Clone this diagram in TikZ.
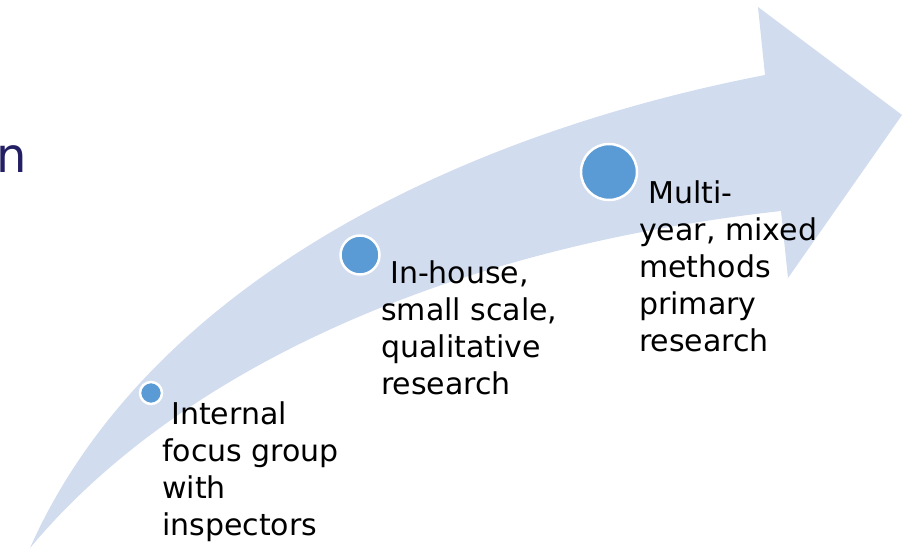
\documentclass[tikz,border=0pt]{standalone}
\usepackage{fontspec}
\setmainfont{DejaVu Sans}
\definecolor{bandblue}{RGB}{209,220,239}
\definecolor{dotblue}{RGB}{91,155,213}
\definecolor{navy}{RGB}{35,31,100}
\begin{document}
\begin{tikzpicture}[x=1pt,y=-1pt,
  dot/.style={circle,fill=dotblue,draw=white,line width=2.5pt,inner sep=0pt},
  label/.style={anchor=base west,inner sep=0pt,font=\fontsize{30}{37}\selectfont}]
\useasboundingbox (0,0) rectangle (907,549);
% curved arrow
\fill[bandblue] (30,548) .. controls (140,300) and (430,140) .. (765,75)
  -- (758,7) -- (902,115) -- (788,278) -- (781,211)
  .. controls (430,250) and (170,380) .. (30,548) -- cycle;
% partial title letter
\node[anchor=base east,inner sep=0pt,text=navy,font=\fontsize{48}{56}\selectfont] (title) at (27,172) {n};
% milestones
\node[dot,minimum size=22pt] (d1) at (151,393) {};
\node[dot,minimum size=39pt] (d2) at (360,255) {};
\node[dot,minimum size=56pt] (d3) at (609,172) {};
\node[label] (t1) at (162,424) {\parbox[t]{200pt}{\raggedright\hspace*{0.3em}Internal\\focus group\\with\\inspectors}};
\node[label] (t2) at (381,283) {\parbox[t]{200pt}{\raggedright\hspace*{0.3em}In-house,\\small scale,\\qualitative\\research}};
\node[label] (t3) at (639,203) {\parbox[t]{200pt}{\raggedright\hspace*{0.3em}Multi-\\year, mixed\\methods\\primary\\research}};
\end{tikzpicture}
\end{document}
